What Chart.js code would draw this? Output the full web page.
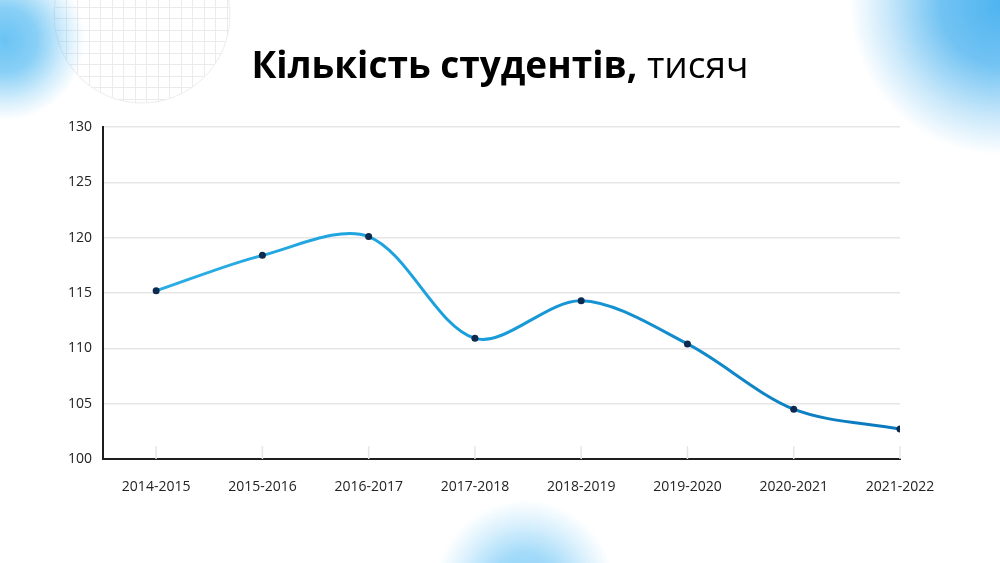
<!DOCTYPE html>
<html>
<head>
<meta charset="utf-8">
<script src="https://cdn.jsdelivr.net/npm/chart.js@4"></script>
<style>
html,body{margin:0;padding:0;background:#fff;}
#wrap{position:relative;width:1000px;height:563px;overflow:hidden;}
#bg{position:absolute;left:0;top:0;}
#chart{position:absolute;left:0;top:0;}
#title{position:absolute;left:0;top:38px;width:1000px;text-align:center;font-family:"Open Sans","Noto Sans",sans-serif;font-size:37px;color:#000;}
#title b{font-weight:700;}
#title span{font-weight:400;}
</style>
</head>
<body>
<div id="wrap">
<canvas id="bg" width="1000" height="563"></canvas>
<canvas id="chart" width="1000" height="563"></canvas>
<div id="title"><b>Кількість студентів,</b> <span>тисяч</span></div>
</div>
<script>
const categories = ["2014-2015","2015-2016","2016-2017","2017-2018","2018-2019","2019-2020","2020-2021","2021-2022"];
const students = [115.2, 118.4, 120.1, 110.9, 114.3, 110.4, 104.5, 102.7];
const yTicks = [100, 105, 110, 115, 120, 125, 130];

// background decoration
(function(){
  const c = document.getElementById('bg').getContext('2d');
  function blob(x,y,r,col,a){
    const g = c.createRadialGradient(x,y,0,x,y,r);
    g.addColorStop(0,'rgba('+col+','+a+')');
    g.addColorStop(0.4,'rgba('+col+','+(a*0.8)+')');
    g.addColorStop(0.75,'rgba('+col+','+(a*0.3)+')');
    g.addColorStop(1,'rgba('+col+',0)');
    c.fillStyle = g;
    c.fillRect(x-r,y-r,2*r,2*r);
  }
  // grid circle
  c.save();
  c.beginPath(); c.arc(142,15,88,0,Math.PI*2); c.clip();
  c.strokeStyle = '#ebebed'; c.lineWidth = 1;
  for(let x=54;x<=232;x+=11.5){c.beginPath();c.moveTo(Math.round(x)+0.5,-80);c.lineTo(Math.round(x)+0.5,110);c.stroke();}
  for(let y=-74;y<=105;y+=11.5){c.beginPath();c.moveTo(50,Math.round(y)+0.5);c.lineTo(235,Math.round(y)+0.5);c.stroke();}
  c.restore();
  c.beginPath(); c.arc(142,15,88,0,Math.PI*2); c.strokeStyle='#ececee'; c.stroke();
  blob(5,40,80,'80,185,242',0.85);
  blob(1000,5,150,'60,172,238',0.9);
  blob(525,590,90,'90,190,245',0.7);
})();

const chartData = students.map((v,i)=>({x:i,y:v}));

const tickMarks = {
  id:'tickMarks',
  beforeDatasetsDraw(chart){
    const ctx = chart.ctx, xs = chart.scales.x, a = chart.chartArea;
    ctx.save();
    ctx.strokeStyle = '#e6e6e6'; ctx.lineWidth = 1.5;
    categories.forEach((_,i)=>{
      const px = xs.getPixelForValue(i);
      ctx.beginPath(); ctx.moveTo(px, a.bottom-13); ctx.lineTo(px, a.bottom); ctx.stroke();
    });
    ctx.restore();
  }
};

new Chart(document.getElementById('chart'), {
  type:'line',
  data:{
    datasets:[{
      data: chartData,
      borderWidth: 3,
      tension: 0.32,
      borderColor(ctx){
        const a = ctx.chart.chartArea;
        if(!a) return '#1aa0dc';
        const g = ctx.chart.ctx.createLinearGradient(a.left,0,a.right,0);
        g.addColorStop(0,'#2fb0e6');
        g.addColorStop(0.45,'#1a9fdc');
        g.addColorStop(1,'#0a78bd');
        return g;
      },
      pointRadius: 3.5,
      pointBackgroundColor:'#0d2b4e',
      pointBorderColor:'#0d2b4e',
      pointBorderWidth:0,
      fill:false
    }]
  },
  options:{
    responsive:false,
    animation:false,
    devicePixelRatio:1,
    layout:{padding:{left:60,right:100,top:127,bottom:64}},
    plugins:{legend:{display:false},tooltip:{enabled:false},title:{display:false}},
    scales:{
      x:{
        type:'linear', min:-0.5, max:7,
        afterBuildTicks(s){ s.ticks = categories.map((_,i)=>({value:i})); },
        afterFit(s){ s.height = 40; },
        grid:{display:false, drawTicks:false},
        border:{display:true,color:'#1e1e1e',width:2},
        ticks:{
          callback:(v)=>categories[v] ?? '',
          padding:20,
          maxRotation:0, autoSkip:false,
          color:'#222', font:{family:'"Open Sans","Noto Sans",sans-serif',size:14}
        }
      },
      y:{
        min:100, max:130,
        afterBuildTicks(s){ s.ticks = yTicks.map(v=>({value:v})); },
        afterFit(s){ s.width = 43; },
        grid:{color:'#e6e6e6', lineWidth:1.5, drawTicks:false},
        border:{display:true,color:'#1e1e1e',width:2},
        ticks:{
          padding:11,
          color:'#222', font:{family:'"Open Sans","Noto Sans",sans-serif',size:14}
        }
      }
    }
  },
  plugins:[tickMarks]
});
</script>
</body>
</html>
